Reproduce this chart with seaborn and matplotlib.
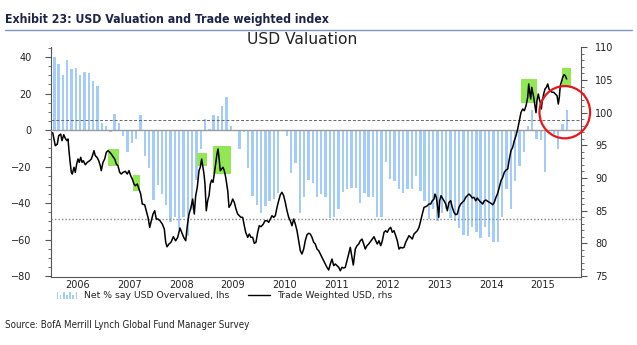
import numpy as np
import pandas as pd
import matplotlib
matplotlib.use("Agg")
import matplotlib.pyplot as plt
from matplotlib.patches import Rectangle, Ellipse
from matplotlib.lines import Line2D
from matplotlib.legend_handler import HandlerBase
from matplotlib.ticker import MultipleLocator, FixedLocator, NullFormatter
import seaborn as sns

# ---------------------------------------------------------------------------
# Data
# ---------------------------------------------------------------------------
# BofA ML Global Fund Manager Survey: net % saying USD is overvalued,
# one reading per month, Jan 2006 - Dec 2015
survey_first_month = "2006-01"
net_overvalued = [
    40, 36.3, 30.3, 38.2, 33.2, 34.2, 30.3, 32, 31.4, 27, 24.1, 4,
    2, -1, 9, 4, -3.3, -12.2, -7, -5, 8.2, -14.2, -21, -38.5,
    -30.3, -35.3, -41.3, -50.4, -47.7, -54, -47.7, -58.3, -44, -27.6, -10.2, 6.2,
    0.7, 8.4, 7.5, 13.2, 18.1, 2, 0, -10.2, -1.1, -20.6, -36.3, -41.3,
    -45.5, -41.6, -38.9, -38, -34.3, 0, -3.3, -23.4, -18.3, -45.3, -36.5, -27.4,
    -29.2, -36.5, -35.3, -36.5, -48, -47.5, -43.1, -34, -32.5, -31.6, -31.6, -40.2,
    -34.3, -36.5, -36.5, -47.5, -47.5, -17.5, -26.7, -27.9, -32.5, -34.3, -32.5, -32.5,
    -25.2, -33.4, -38.9, -48.6, -43.5, -49.9, -45.6, -43.5, -48, -49.9, -53.5, -57.7,
    -58, -53, -56, -59, -53.2, -58.6, -61.4, -61.4, -47.7, -32.1, -43.1, -27.9,
    -19.9, -12.1, 2, 11.1, -5.1, -5.7, -23, 0, -2, -10.6, 3.5, 11.1,
]

# +/- one standard deviation band of the survey series
band_upper = 5.3
band_lower = -48.6

# Trade weighted USD index (decimal year, index level)
twi_year = [
    2006.010, 2006.060, 2006.099, 2006.126, 2006.165, 2006.190, 2006.223, 2006.254,
    2006.286, 2006.306, 2006.325, 2006.344, 2006.370, 2006.389, 2006.422, 2006.447,
    2006.474, 2006.499, 2006.524, 2006.552, 2006.577, 2006.602, 2006.641, 2006.679,
    2006.726, 2006.757, 2006.790, 2006.809, 2006.834, 2006.867, 2006.900, 2006.931,
    2006.950, 2006.983, 2007.016, 2007.047, 2007.080, 2007.113, 2007.144, 2007.177,
    2007.210, 2007.241, 2007.273, 2007.306, 2007.337, 2007.370, 2007.415, 2007.453,
    2007.486, 2007.519, 2007.550, 2007.583, 2007.608, 2007.647, 2007.680, 2007.713,
    2007.744, 2007.790, 2007.821, 2007.854, 2007.887, 2007.918, 2007.951, 2007.984,
    2008.015, 2008.048, 2008.086, 2008.131, 2008.170, 2008.197, 2008.222, 2008.260,
    2008.299, 2008.344, 2008.390, 2008.429, 2008.473, 2008.506, 2008.545, 2008.584,
    2008.615, 2008.648, 2008.686, 2008.719, 2008.750, 2008.777, 2008.808, 2008.841,
    2008.866, 2008.893, 2008.913, 2008.938, 2008.957, 2008.982, 2009.009, 2009.035,
    2009.060, 2009.087, 2009.112, 2009.137, 2009.164, 2009.189, 2009.209, 2009.228,
    2009.253, 2009.280, 2009.306, 2009.331, 2009.358, 2009.397, 2009.422, 2009.460,
    2009.493, 2009.524, 2009.557, 2009.590, 2009.621, 2009.654, 2009.687, 2009.718,
    2009.745, 2009.784, 2009.815, 2009.847, 2009.880, 2009.911, 2009.944, 2009.977,
    2010.008, 2010.041, 2010.086, 2010.118, 2010.157, 2010.190, 2010.221, 2010.254,
    2010.287, 2010.318, 2010.351, 2010.383, 2010.415, 2010.447, 2010.480, 2010.511,
    2010.544, 2010.577, 2010.608, 2010.641, 2010.674, 2010.705, 2010.738, 2010.771,
    2010.802, 2010.834, 2010.867, 2010.898, 2010.931, 2010.964, 2010.995, 2011.028,
    2011.061, 2011.092, 2011.125, 2011.158, 2011.189, 2011.222, 2011.254, 2011.285,
    2011.318, 2011.351, 2011.382, 2011.415, 2011.448, 2011.479, 2011.512, 2011.545,
    2011.576, 2011.609, 2011.642, 2011.672, 2011.705, 2011.738, 2011.769, 2011.802,
    2011.827, 2011.866, 2011.899, 2011.932, 2011.963, 2011.996, 2012.029, 2012.059,
    2012.092, 2012.125, 2012.195, 2012.228, 2012.261, 2012.292, 2012.325, 2012.358,
    2012.389, 2012.422, 2012.454, 2012.485, 2012.518, 2012.551, 2012.582, 2012.615,
    2012.648, 2012.679, 2012.712, 2012.745, 2012.776, 2012.809, 2012.841, 2012.872,
    2012.905, 2012.938, 2012.969, 2013.002, 2013.035, 2013.066, 2013.099, 2013.132,
    2013.163, 2013.196, 2013.228, 2013.260, 2013.292, 2013.325, 2013.356, 2013.389,
    2013.408, 2013.434, 2013.461, 2013.480, 2013.499, 2013.525, 2013.550, 2013.583,
    2013.616, 2013.647, 2013.679, 2013.712, 2013.743, 2013.776, 2013.809, 2013.840,
    2013.873, 2013.906, 2013.937, 2013.970, 2014.003, 2014.034, 2014.067, 2014.099,
    2014.130, 2014.163, 2014.196, 2014.227, 2014.266, 2014.299, 2014.332, 2014.363,
    2014.396, 2014.428, 2014.459, 2014.492, 2014.525, 2014.556, 2014.589, 2014.622,
    2014.653, 2014.686, 2014.719, 2014.750, 2014.783, 2014.816, 2014.847, 2014.879,
    2014.912, 2014.943, 2014.976, 2015.009, 2015.040, 2015.073, 2015.106, 2015.137,
    2015.170, 2015.203, 2015.222, 2015.241, 2015.261, 2015.280, 2015.299, 2015.319,
    2015.344, 2015.363, 2015.382, 2015.408, 2015.427, 2015.446, 2015.466, 2015.485,
    2015.512, 2015.537, 2015.563, 2015.590, 2015.615, 2015.640, 2015.673, 2015.706,
    2015.737, 2015.770, 2015.795, 2015.814, 2015.833, 2015.853, 2015.880, 2015.905,
    2015.930, 2015.957,
]
twi_level = [
    96.93, 94.94, 95.20, 96.47, 96.73, 95.71, 96.63, 96.07,
    95.71, 95.97, 94.18, 92.65, 90.87, 90.61, 91.64, 90.87,
    92.14, 92.91, 92.40, 93.17, 92.40, 92.65, 92.03, 92.40,
    92.65, 92.91, 93.67, 94.18, 93.41, 93.17, 92.65, 91.88,
    91.12, 92.40, 92.91, 93.93, 94.18, 93.93, 93.67, 93.26,
    92.91, 92.14, 91.88, 90.87, 90.61, 90.87, 91.02, 90.61,
    91.12, 90.35, 89.85, 89.08, 88.82, 89.08, 88.32, 87.55,
    86.02, 85.91, 84.99, 83.98, 82.45, 83.46, 84.49, 84.99,
    83.72, 83.72, 83.46, 82.96, 82.19, 80.16, 79.48, 79.90,
    80.16, 81.01, 80.40, 80.92, 82.35, 81.69, 80.92, 80.40,
    82.70, 84.49, 85.51, 86.78, 84.49, 87.29, 88.58, 91.12,
    91.64, 92.91, 91.88, 90.61, 89.08, 84.99, 86.52, 87.29,
    89.08, 89.69, 89.34, 90.61, 92.14, 93.67, 94.44, 93.17,
    91.12, 91.38, 91.64, 91.12, 90.11, 88.06, 85.51, 86.02,
    86.78, 86.28, 85.25, 84.49, 84.23, 83.98, 83.98, 82.70,
    81.69, 80.92, 81.43, 80.92, 80.92, 80.00, 80.16, 81.69,
    82.70, 82.55, 82.96, 83.46, 83.46, 83.22, 83.72, 84.23,
    83.98, 84.23, 85.51, 86.52, 87.44, 87.81, 87.29, 86.28,
    84.99, 83.98, 83.46, 82.70, 83.72, 82.96, 81.93, 80.40,
    78.87, 78.37, 79.13, 80.40, 81.32, 81.54, 81.43, 80.92,
    80.16, 79.90, 79.13, 78.87, 78.37, 77.86, 77.34, 76.84,
    76.33, 75.92, 76.84, 77.60, 76.58, 76.84, 76.58, 76.33,
    75.81, 76.33, 76.22, 76.33, 77.34, 78.37, 79.39, 77.86,
    76.68, 79.13, 79.64, 79.90, 80.40, 80.66, 79.90, 79.13,
    79.64, 79.90, 80.66, 81.01, 80.40, 79.90, 80.40, 79.64,
    80.40, 81.69, 81.93, 81.69, 82.19, 82.45, 81.69, 81.93,
    81.17, 80.40, 79.13, 79.39, 79.29, 79.39, 80.16, 80.66,
    81.17, 80.92, 80.66, 81.43, 81.69, 81.93, 82.45, 83.46,
    84.49, 85.51, 85.61, 85.76, 86.02, 86.02, 86.52, 86.78,
    87.55, 87.05, 85.51, 83.98, 86.52, 87.29, 86.94, 86.52,
    86.02, 84.99, 86.28, 86.52, 85.51, 84.75, 84.38, 84.49,
    85.51, 86.02, 86.28, 86.52, 87.05, 87.29, 87.55, 87.29,
    86.94, 87.05, 86.52, 86.94, 86.52, 86.28, 86.02, 86.52,
    86.63, 86.43, 86.28, 86.13, 85.91, 86.28, 87.05, 87.66,
    88.58, 89.59, 90.11, 90.87, 91.22, 91.38, 92.91, 94.18,
    94.70, 95.71, 96.47, 97.50, 98.77, 100.05, 100.56, 100.30,
    101.06, 102.35, 104.39, 103.12, 102.09, 103.88, 103.12, 102.35,
    101.06, 100.00, 101.83, 102.86, 102.09, 101.58, 100.56, 101.83,
    102.86, 103.62, 103.88, 104.39, 103.62, 103.36, 103.12, 103.12,
    102.86, 102.59, 101.32, 102.35, 104.13, 104.65, 105.41, 105.81,
    105.66, 105.15,
]

# Highlighted episodes on the index (start, end, low, high)
hl_start = [2007.08, 2007.56, 2008.81, 2009.12, 2015.07, 2015.87]
hl_end = [2007.29, 2007.70, 2009.00, 2009.47, 2015.38, 2016.04]
hl_low = [91.79, 88.01, 91.79, 90.66, 101.48, 104.03]
hl_high = [94.44, 90.46, 93.82, 94.85, 105.15, 106.79]

# Circled recent divergence (centre year, centre level, width in years, height)
circle_year, circle_level, circle_w, circle_h = 2015.92, 100.07, 0.98, 8.0

years = list(range(2006, 2016))

title = "Exhibit 23: USD Valuation and Trade weighted index"
subtitle = "USD Valuation"
source = "Source: BofA Merrill Lynch Global Fund Manager Survey"
bar_label = "Net % say USD Overvalued, lhs"
line_label = "Trade Weighted USD, rhs"

# ---------------------------------------------------------------------------
# Styling
# ---------------------------------------------------------------------------
sns.set_style("white")
plt.rcParams["font.family"] = ["DejaVu Sans"]

BAR_COLOR = "#a3cdf8"
LINE_COLOR = "#000000"
HL_COLOR = "#92e854"
AXIS_COLOR = "#555555"
TEXT_COLOR = "#222222"

W, H = 637, 345
fig = plt.figure(figsize=(W / 100, H / 100), dpi=100)


def fx(px):
    return px / W


def fy(py):
    return 1 - py / H


ax = fig.add_axes([fx(51), fy(277), fx(581) - fx(51), fy(47) - fy(277)])

months = pd.period_range(survey_first_month, periods=len(net_overvalued), freq="M")
month_pos = np.array([p.year + (p.month - 0.5) / 12 for p in months])
survey = pd.DataFrame({"t": month_pos, "net": net_overvalued})

sns.barplot(data=survey, x="t", y="net", native_scale=True, orient="x",
            color=BAR_COLOR, saturation=1, width=0.55, errorbar=None,
            linewidth=0, edgecolor="none", ax=ax, zorder=2)

ax.axhline(0, color="#9a9a9a", lw=1.0, zorder=3)
ax.axhline(band_upper, color="#666666", lw=0.7, dashes=(3, 2), zorder=3)
ax.axhline(band_lower, color="#888888", lw=1.0, dashes=(1, 1.5), zorder=3)

ax2 = ax.twinx()
twi = pd.DataFrame({"t": twi_year, "level": twi_level})
for x0, x1, lo, hi in zip(hl_start, hl_end, hl_low, hl_high):
    ax2.add_patch(Rectangle((x0, lo), x1 - x0, hi - lo, facecolor=HL_COLOR,
                            edgecolor="none", zorder=1))
sns.lineplot(data=twi, x="t", y="level", color=LINE_COLOR, linewidth=1.1,
             estimator=None, sort=False, ax=ax2, zorder=3)
ax2.add_patch(Ellipse((circle_year, circle_level), circle_w, circle_h,
                      facecolor="none", edgecolor="#e8161b", lw=1.6,
                      clip_on=False, zorder=4))

# Axes limits and ticks
ax.set_xlim(2005.977, 2016.234)
ax.set_ylim(-80.5, 45.5)
ax2.set_ylim(74.85, 110.05)

ax.xaxis.set_major_locator(FixedLocator(list(range(2006, 2017))))
ax.xaxis.set_major_formatter(NullFormatter())
ax.set_xticks([y + 0.5 for y in years], minor=True)
ax.set_xticklabels([str(y) for y in years], minor=True)
ax.tick_params(axis="x", which="major", direction="out", length=4, width=0.8,
               color=AXIS_COLOR)
ax.tick_params(axis="x", which="minor", length=0, pad=2.5, labelsize=7,
               labelcolor=TEXT_COLOR)

ax.yaxis.set_major_locator(MultipleLocator(20))
ax.yaxis.set_minor_locator(MultipleLocator(5))
ax.tick_params(axis="y", which="major", direction="out", length=4, width=0.8,
               pad=10, labelsize=7, color=AXIS_COLOR, labelcolor=TEXT_COLOR)
ax.tick_params(axis="y", which="minor", direction="out", length=2, width=0.6,
               color=AXIS_COLOR)

ax2.yaxis.set_major_locator(MultipleLocator(5))
ax2.yaxis.set_minor_locator(MultipleLocator(1))
ax2.tick_params(axis="y", which="major", direction="out", length=4, width=0.8,
                pad=6, labelsize=7, color=AXIS_COLOR, labelcolor=TEXT_COLOR)
ax2.tick_params(axis="y", which="minor", direction="out", length=2, width=0.6,
                color=AXIS_COLOR)

for a in (ax, ax2):
    a.set_xlabel("")
    a.set_ylabel("")
    a.grid(False)
    a.spines["top"].set_visible(False)
    for s in ("left", "right", "bottom"):
        a.spines[s].set_color(AXIS_COLOR)
        a.spines[s].set_linewidth(0.8)
ax.spines["right"].set_visible(False)
ax2.spines["left"].set_visible(False)
ax2.spines["bottom"].set_visible(False)
ax2.patch.set_visible(False)


# Legend with a small bar-chart glyph for the survey series
class MiniBarsHandler(HandlerBase):
    def create_artists(self, legend, orig_handle, xdescent, ydescent, width,
                       height, fontsize, trans):
        heights = [0.9, 0.55, 0.9, 0.55, 0.9, 0.55, 0.9]
        step = width / len(heights)
        return [Rectangle((-xdescent + k * step + step * 0.25, -ydescent),
                          step * 0.5, height * h, facecolor=BAR_COLOR,
                          edgecolor="none", transform=trans)
                for k, h in enumerate(heights)]


bar_handle = Rectangle((0, 0), 1, 1, facecolor=BAR_COLOR)
line_handle = Line2D([], [], color=LINE_COLOR, lw=1.0)
fig.legend([bar_handle, line_handle], [bar_label, line_label],
           loc="center left", bbox_to_anchor=(fx(56), fy(296)), ncol=2,
           frameon=False, fontsize=6.7, handlelength=2.35, handleheight=0.8,
           handletextpad=0.7, columnspacing=2.0, borderpad=0, borderaxespad=0,
           labelcolor=TEXT_COLOR, handler_map={bar_handle: MiniBarsHandler()})

# Headings and source
renderer = fig.canvas.get_renderer()


def fit_width(t, target_px):
    w = t.get_window_extent(renderer).width
    t.set_fontsize(t.get_fontsize() * target_px / w)


t_title = fig.text(fx(5), fy(19), title, ha="left", va="center",
                   fontsize=10, fontweight="bold", fontstretch="condensed",
                   color="#1e2448", family=["DejaVu Sans"])
fit_width(t_title, 323)
fig.add_artist(Line2D([fx(5), fx(632)], [fy(29.5), fy(29.5)],
                      color="#8096c0", lw=1.0))

t_sub = fig.text(fx(302), fy(40), subtitle, ha="center", va="center",
                 fontsize=10, color=TEXT_COLOR, family=["DejaVu Sans"])
fit_width(t_sub, 110)

t_src = fig.text(fx(5), fy(325), source, ha="left", va="center", fontsize=8,
                 fontstretch="condensed", color=TEXT_COLOR,
                 family=["DejaVu Sans"])
fit_width(t_src, 245)

fig.savefig("out.png", dpi=100)
